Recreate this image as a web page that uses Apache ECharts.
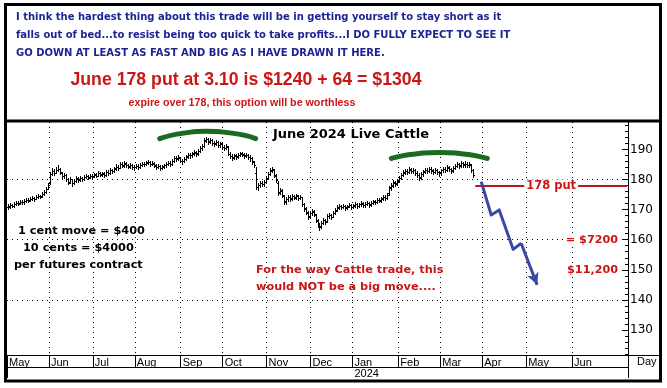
<!DOCTYPE html>
<html><head><meta charset="utf-8">
<script src="https://cdn.jsdelivr.net/npm/echarts@6/dist/echarts.min.js"></script>
<style>html,body{margin:0;padding:0;background:#fff}#c{width:667px;height:388px}</style>
</head><body><div id="c"></div>
<script>
// ---------- data ----------
const firstDay = '2023-05-03';      // first trading day on the axis
const dayCount = 311;               // weekdays shown on the axis
const lastMonthLabelled = '2024-06';
const monthNames = ['Jan','Feb','Mar','Apr','May','Jun','Jul','Aug','Sep','Oct','Nov','Dec'];
const yearLabel = '2024';

const opens = [
170.8,171.1,171.4,171.3,171.7,172.2,172.1,172.5,172.5,172.8,
173.2,173.1,173.5,173.8,173.6,174.1,174.5,174.4,175.1,175.9,
177.0,179.0,181.9,182.8,182.3,183.2,183.5,182.2,181.1,181.4,
180.0,179.2,180.0,178.8,179.6,180.3,180.0,180.4,180.2,180.9,
181.1,180.7,181.2,181.1,181.6,181.3,182.2,181.7,181.9,181.6,
182.5,182.2,183.0,182.8,183.7,184.2,183.9,185.1,184.7,185.3,
184.7,184.4,184.8,184.3,184.1,184.5,184.2,184.9,185.2,185.1,
185.6,185.8,185.3,185.3,184.6,184.3,184.4,183.9,184.4,184.8,
185.2,185.4,185.1,186.3,187.1,187.0,187.3,186.2,186.1,186.9,
187.7,188.1,188.1,188.6,188.9,188.7,189.5,190.4,191.2,192.9,
193.3,192.7,193.0,192.1,192.0,192.3,191.6,191.9,190.7,190.6,
190.8,188.5,187.7,187.4,187.9,187.7,188.3,188.6,188.3,188.0,
188.2,187.5,187.1,185.9,182.0,177.6,178.3,178.8,178.5,179.3,
180.6,181.9,182.9,183.2,181.3,178.9,175.8,176.3,174.6,172.8,
173.5,174.1,173.7,174.4,174.1,174.6,174.0,174.1,171.8,170.2,
169.0,167.8,168.9,169.3,168.3,166.3,164.9,164.4,165.5,166.5,
166.2,167.9,168.2,167.7,168.9,169.7,170.7,171.1,170.9,171.2,
170.7,171.1,171.5,171.0,171.4,171.7,171.3,171.8,172.0,171.6,
172.0,172.2,171.7,172.3,172.6,172.5,173.2,173.1,173.7,174.1,
173.9,175.6,177.4,178.1,179.0,178.7,179.7,180.5,181.6,182.4,
182.8,182.6,183.3,182.9,183.0,182.1,181.5,180.8,181.9,182.7,
183.1,182.8,183.4,182.9,182.5,183.2,182.4,182.1,183.1,183.5,
183.3,183.9,183.4,183.0,183.9,184.6,185.1,184.7,185.4,185.0,
185.2,184.9,184.8,183.0];

const closes = [
171.0,171.5,171.2,171.8,172.3,172.0,172.6,172.4,172.9,173.3,
173.0,173.6,173.9,173.5,174.2,174.6,174.3,175.2,175.8,176.9,
178.2,181.8,182.9,182.2,183.3,183.6,182.4,181.0,181.5,180.2,
179.0,180.1,178.7,179.5,180.4,179.9,180.5,180.1,180.8,181.2,
180.6,181.3,181.0,181.7,181.2,182.3,181.6,182.0,181.5,182.6,
182.1,183.1,182.7,183.6,184.3,183.8,185.2,184.6,185.4,184.8,
184.3,184.9,184.2,184.0,184.6,184.1,184.8,185.3,185.0,185.7,
185.9,185.2,185.4,184.7,184.2,184.5,183.8,184.3,184.7,185.1,
185.5,185.0,186.2,187.2,186.9,187.4,186.3,186.0,186.8,187.6,
188.2,188.0,188.7,189.0,188.6,189.4,190.3,191.0,193.0,193.4,
192.6,193.1,192.2,191.9,192.4,191.5,192.0,190.8,190.5,191.2,
188.6,187.8,187.3,188.0,187.6,188.2,188.7,188.4,187.9,188.3,
187.6,187.2,186.0,184.7,177.5,178.2,178.9,178.4,179.2,180.5,
181.8,183.0,183.4,181.5,179.8,175.6,176.5,174.8,172.6,173.4,
174.2,173.6,174.5,174.0,174.7,173.9,174.3,172.0,170.4,169.2,
167.6,168.8,169.4,168.5,166.5,165.0,164.2,165.4,166.6,166.0,
167.8,168.3,167.6,168.8,169.8,170.6,171.2,170.8,171.3,170.6,
171.0,171.6,170.9,171.3,171.8,171.2,171.7,172.1,171.5,171.9,
172.3,171.6,172.2,172.7,172.4,173.3,173.0,173.6,174.2,173.8,
175.0,177.2,178.0,179.1,178.6,179.6,180.4,181.5,182.3,182.9,
182.5,183.4,182.8,183.1,182.2,181.6,180.6,181.8,182.6,183.2,
182.7,183.5,183.0,182.4,183.3,182.5,182.0,183.0,183.6,183.2,
184.0,183.5,182.9,183.8,184.5,185.2,184.6,185.5,184.9,185.3,
184.8,185.0,183.1,181.4];

const highs = [
171.9,172.1,172.0,172.4,172.9,172.8,173.1,173.2,173.5,173.9,
173.8,174.1,174.6,174.3,174.8,175.3,175.0,175.8,176.5,177.4,
178.8,182.4,183.8,183.4,184.2,184.7,183.8,182.6,182.2,181.7,
180.5,180.8,180.3,180.2,181.0,180.8,181.1,180.9,181.4,181.8,
181.5,181.9,181.8,182.3,182.0,182.9,182.6,182.6,182.4,183.2,
183.0,183.7,183.6,184.2,185.0,184.8,185.9,185.7,186.1,185.8,
185.2,185.5,185.2,184.8,185.2,185.0,185.4,185.9,185.8,186.3,
186.6,186.2,186.0,185.7,185.0,185.1,184.8,184.9,185.3,185.8,
186.2,186.0,186.8,187.9,187.8,188.1,187.6,186.9,187.4,188.3,
188.9,188.8,189.3,189.8,189.5,190.1,191.0,191.9,193.8,194.2,
193.8,193.9,193.4,192.8,193.1,192.7,192.6,192.2,191.4,191.9,
191.0,189.0,188.4,188.6,188.5,188.8,189.3,189.2,188.8,188.9,
188.6,188.0,187.4,186.2,184.2,179.0,179.6,179.5,179.9,181.2,
182.5,183.7,184.2,183.6,181.9,179.5,177.3,176.8,175.0,174.1,
174.9,174.7,175.2,174.9,175.3,175.0,174.9,174.2,172.1,170.8,
169.5,169.4,170.1,169.8,168.7,166.9,165.6,166.1,167.3,167.0,
168.4,169.0,168.7,169.4,170.5,171.4,171.8,171.6,171.9,171.5,
171.6,172.2,171.9,171.9,172.4,172.1,172.3,172.7,172.4,172.5,
172.9,172.6,172.8,173.3,173.2,173.9,173.8,174.2,174.8,174.7,
175.6,177.9,178.7,179.8,179.6,180.3,181.1,182.2,183.0,183.6,
183.5,184.1,183.9,183.8,183.5,182.7,182.0,182.4,183.2,183.9,
183.7,184.1,184.0,183.4,183.9,183.6,182.9,183.6,184.3,184.1,
184.7,184.5,183.9,184.4,185.2,185.9,185.6,186.2,185.9,186.0,
185.7,185.8,185.2,183.4];

const lows = [
170.3,170.6,170.7,171.0,171.4,171.5,171.8,171.9,172.0,172.5,
172.4,172.8,173.2,172.9,173.4,173.9,173.7,174.2,175.0,175.6,
176.8,178.6,181.6,181.5,182.0,182.8,181.9,180.5,180.6,179.6,
178.4,178.8,178.0,178.5,179.2,179.3,179.6,179.5,179.9,180.4,
180.0,180.4,180.5,180.8,180.7,181.0,181.1,181.2,180.9,181.3,
181.6,181.9,182.1,182.5,183.3,183.2,183.7,184.0,184.3,184.2,
183.7,183.9,183.6,183.3,183.7,183.5,183.8,184.4,184.5,184.7,
185.1,184.6,184.7,184.1,183.5,183.7,183.2,183.4,183.9,184.2,
184.7,184.4,184.9,185.9,186.2,186.5,185.8,185.3,185.7,186.5,
187.2,187.3,187.6,188.1,187.9,188.3,189.2,189.9,190.8,192.3,
191.9,192.0,191.5,191.0,191.3,190.8,190.9,190.1,189.7,190.0,
188.0,187.0,186.6,186.9,186.9,187.1,187.8,187.7,187.2,187.4,
186.9,186.3,185.3,184.0,176.9,176.6,177.6,177.7,178.0,179.0,
180.2,181.4,182.5,180.8,179.1,174.9,175.1,174.1,171.9,172.0,
173.0,172.9,173.3,173.4,173.6,173.2,173.4,171.3,169.7,168.6,
166.9,167.2,168.3,167.8,165.8,164.3,163.1,163.8,165.2,165.3,
166.0,167.3,166.9,167.5,168.6,169.5,170.2,170.1,170.4,170.0,
170.2,170.7,170.3,170.4,170.9,170.6,170.8,171.2,170.9,171.0,
171.4,171.0,171.3,171.8,171.8,172.2,172.4,172.6,173.1,173.2,
173.6,174.8,176.6,177.5,177.9,178.2,179.3,180.1,181.0,181.8,
181.8,182.1,182.2,182.1,181.6,180.9,179.9,180.3,181.3,182.0,
182.0,182.4,182.3,181.7,182.0,181.9,181.2,181.6,182.5,182.6,
182.9,182.8,182.2,182.6,183.4,184.0,183.9,184.3,184.2,184.3,
184.0,184.1,182.4,180.7];

const yMin = 121.7, yMax = 199.1;
const yLabelValues = [130,140,150,160,170,180,190];
const yMinorTicks = [122,124,126,128,130,132,134,136,138,140,142,144,146,148,150,152,154,156,158,160,162,164,166,168,170,172,174,176,178,180,182,184,186,188,190,192,194,196,198];
const gridLevels = [140,160,180];

// annotations (category index, price)
const arcSep = [[76,193.6],[88,195.4],[99,196.0],[112,195.4],[124,193.6]];
const arcMar = [[192,187.0],[204,188.5],[216,189.0],[228,188.5],[240,187.0]];
const forecastPath = [[237,179.3],[242,168.2],[246,169.9],[253,156.8],[257,158.8]];
const forecastTip = [265,145.0];
const putStrike = 178, putFrom = 234, putTo = 310, putText = '178 put';
const dollarNotes = [[306,160,'= $7200'],[306,150,'$11,200']];

// ---------- build ----------
const dates = [];
(function(){
  const p = firstDay.split('-').map(Number);
  const d = new Date(Date.UTC(p[0], p[1]-1, p[2]));
  while (dates.length < dayCount) {
    const wd = d.getUTCDay();
    if (wd !== 0 && wd !== 6) dates.push(d.toISOString().slice(0,10));
    d.setUTCDate(d.getUTCDate()+1);
  }
})();
const isMonthStart = i => dates[i].slice(0,7) <= lastMonthLabelled && (i === 0 || dates[i].slice(0,7) !== dates[i-1].slice(0,7));
const isYearStart = i => i > 0 && dates[i].slice(0,4) === yearLabel && dates[i-1].slice(0,4) !== yearLabel;
const barData = closes.map((c,i)=>[i, highs[i], lows[i], c, opens[i]]);

const BLUE = '#1c2494', RED = '#cc1616', DRED = '#b8181c', GREEN = '#1b6a1f', ARROW = '#3a48a8';
const bold = (px, fam) => 'bold ' + px + 'px ' + fam;
const ARIAL = '"Liberation Sans", Arial, sans-serif';
const VERD = '"DejaVu Sans", Verdana, sans-serif';

const chart = echarts.init(document.getElementById('c'), null, {renderer:'canvas'});
const dotted = {color:'#000', width:1, type:[1,4], opacity: 1};

const frameGraphics = [
  {type: 'rect', z: 100, shape: {x: 5.5, y: 4.5, width: 655, height: 376.5}, style: {fill: 'transparent', stroke: '#000', lineWidth: 3}},
  {type: 'line', z: 100, shape: {x1: 4, y1: 121, x2: 662, y2: 121}, style: {stroke: '#000', lineWidth: 3}},
  {type: 'line', z: 50, shape: {x1: 628, y1: 355.5, x2: 659, y2: 355.5}, style: {stroke: '#000', lineWidth: 1}},
  {type: 'line', z: 50, shape: {x1: 628.5, y1: 355, x2: 628.5, y2: 378}, style: {stroke: '#000', lineWidth: 1}},
  {type: 'text', z: 60, x: 637, y: 362, style: {text: 'Day', font: '11px ' + ARIAL, fill: '#000', textVerticalAlign: 'middle'}},
  {type: 'text', z: 60, x: 16, y: 17, style: {text: 'I think the hardest thing about this trade will be in getting yourself to stay short as it', font: bold(10, VERD), fill: BLUE, textVerticalAlign: 'middle'}},
  {type: 'text', z: 60, x: 16, y: 35, style: {text: 'falls out of bed...to resist being too quick to take profits...I DO FULLY EXPECT TO SEE IT', font: bold(10, VERD), fill: BLUE, textVerticalAlign: 'middle'}},
  {type: 'text', z: 60, x: 16, y: 53, style: {text: 'GO DOWN AT LEAST AS FAST AND BIG AS I HAVE DRAWN IT HERE.', font: bold(10, VERD), fill: BLUE, textVerticalAlign: 'middle'}},
  {type: 'text', z: 60, x: 246, y: 80, style: {text: 'June 178 put at 3.10 is $1240 + 64 = $1304', font: bold(17.7, ARIAL), fill: RED, textAlign: 'center', textVerticalAlign: 'middle'}},
  {type: 'text', z: 60, x: 242, y: 103, style: {text: 'expire over 178, this option will be worthless', font: bold(10.7, ARIAL), fill: RED, textAlign: 'center', textVerticalAlign: 'middle'}},
  {type: 'text', z: 60, x: 273, y: 135, style: {text: 'June 2024 Live Cattle', font: bold(13, VERD), fill: '#000', textVerticalAlign: 'middle'}},
  {type: 'text', z: 60, x: 18, y: 231, style: {text: '1 cent move = $400', font: bold(11.3, VERD), fill: '#000', textVerticalAlign: 'middle'}},
  {type: 'text', z: 60, x: 23, y: 248, style: {text: '10 cents = $4000', font: bold(11.3, VERD), fill: '#000', textVerticalAlign: 'middle'}},
  {type: 'text', z: 60, x: 14, y: 265, style: {text: 'per futures contract', font: bold(11.3, VERD), fill: '#000', textVerticalAlign: 'middle'}},
  {type: 'text', z: 60, x: 256, y: 270, style: {text: 'For the way Cattle trade, this', font: bold(11.3, VERD), fill: RED, textVerticalAlign: 'middle'}},
  {type: 'text', z: 60, x: 256, y: 287, style: {text: 'would NOT be a big move....', font: bold(11.3, VERD), fill: RED, textVerticalAlign: 'middle'}}
];

chart.setOption({
  animation: false,
  backgroundColor: '#fff',
  grid: {left: 7, right: 39, top: 122, bottom: 33},
  xAxis: [{
    type: 'category', data: dates, boundaryGap: true, position: 'bottom',
    axisLine: {show: true, lineStyle: {color: '#000', width: 1}},
    axisTick: {show: true, interval: i => isMonthStart(i), length: 12, inside: false, lineStyle: {color: '#000'}},
    axisLabel: {show: true, interval: i => isMonthStart(i), formatter: v => monthNames[+v.slice(5,7)-1],
      align: 'left', margin: 2, padding: [0,0,0,1], color: '#000', fontSize: 11, fontFamily: ARIAL},
    splitLine: {show: true, interval: i => i > 0 && isMonthStart(i), lineStyle: {color:'#000', width:1, type:[1,4], opacity: 1}}
  },{
    type: 'category', data: dates, boundaryGap: true, position: 'bottom', offset: 12,
    axisLine: {show: true, lineStyle: {color: '#000', width: 1}},
    axisTick: {show: true, interval: i => isYearStart(i), length: 11, inside: false, lineStyle: {color: '#000'}},
    axisLabel: {show: true, interval: i => isYearStart(i), formatter: () => yearLabel,
      align: 'left', margin: 1, padding: [0,0,0,1], color: '#000', fontSize: 11, fontFamily: ARIAL},
    splitLine: {show: false}
  }],
  yAxis: [{
    type: 'value', position: 'right', min: yMin, max: yMax, scale: true,
    axisLine: {show: true, lineStyle: {color: '#000', width: 1}},
    axisTick: {show: true, inside: true, length: 3, customValues: yMinorTicks, lineStyle: {color: '#000'}},
    axisLabel: {show: true, customValues: yLabelValues, margin: 2, color: '#000', fontSize: 12, fontFamily: VERD},
    splitLine: {show: false}
  },{
    type: 'value', position: 'right', min: yMin, max: yMax, scale: true,
    axisLine: {show: false},
    axisTick: {show: true, inside: true, length: 6, customValues: yLabelValues, lineStyle: {color: '#000'}},
    axisLabel: {show: false},
    splitLine: {show: false}
  }],
  series: [
    {
      type: 'custom', name: 'June 2024 Live Cattle', data: barData, encode: {x: 0, y: [1,2,3,4]}, z: 3,
      renderItem: (params, api) => {
        const i = api.value(0);
        const h = api.coord([i, api.value(1)]);
        const l = api.coord([i, api.value(2)]);
        const c = api.coord([i, api.value(3)]);
        const o = api.coord([i, api.value(4)]);
        const x = Math.round(h[0]) + 0.5;
        const yc = Math.round(c[1]) + 0.5;
        const yo = Math.round(o[1]) + 0.5;
        const yh = Math.round(h[1]), yl = Math.round(l[1]) + 1;
        return {type: 'group', children: [
          {type: 'line', shape: {x1: x, y1: yh, x2: x, y2: yl}, style: {stroke: '#000', lineWidth: 1}},
          {type: 'line', shape: {x1: x, y1: yc, x2: x + 1.5, y2: yc}, style: {stroke: '#000', lineWidth: 1}},
          {type: 'line', shape: {x1: x - 1.5, y1: yo, x2: x, y2: yo}, style: {stroke: '#000', lineWidth: 1}}
        ]};
      }
    },
    {type: 'line', data: arcSep, smooth: 0.6, symbol: 'none', z: 4,
     lineStyle: {color: GREEN, width: 5, cap: 'round'}},
    {type: 'line', data: arcMar, smooth: 0.6, symbol: 'none', z: 4,
     lineStyle: {color: GREEN, width: 5, cap: 'round'}},
    {type: 'line', data: forecastPath, symbol: 'none', z: 6,
     lineStyle: {color: ARROW, width: 3, join: 'round'},
     markLine: {
       silent: true, symbol: ['none','none'], animation: false, z: 2,
       label: {show: false},
       data: [
         ...gridLevels.map(v => ({yAxis: v, lineStyle: dotted, label: {show: false}})),
         [{coord: [putFrom, putStrike], symbol: 'none'},
          {coord: [putTo, putStrike], symbol: 'none',
           lineStyle: {color: DRED, width: 2, type: 'solid'},
           label: {show: true, position: 'middle', distance: -6, formatter: putText, color: RED,
                   fontFamily: VERD, fontWeight: 'bold', fontSize: 11.5,
                   backgroundColor: '#fff', padding: [0,2]}}],
         [{coord: forecastPath[forecastPath.length-1], symbol: 'none'},
          {coord: forecastTip, symbol: 'arrow', symbolSize: [9,12],
           lineStyle: {color: ARROW, width: 3, type: 'solid'}}]
       ]
     }}
  ],
  graphic: frameGraphics
});

// dollar notes placed at their price levels through the chart's own scales
const noteGraphics = dollarNotes.map(n => {
  const pt = chart.convertToPixel({xAxisIndex: 0, yAxisIndex: 0}, [n[0], n[1]]);
  return {type: 'text', z: 60, x: pt[0] - 1, y: pt[1], style: {text: n[2], font: bold(11.2, VERD), fill: RED,
          textAlign: 'right', textVerticalAlign: 'middle', backgroundColor: '#fff'}};
});
chart.setOption({graphic: frameGraphics.concat(noteGraphics)});
</script>
</body></html>
